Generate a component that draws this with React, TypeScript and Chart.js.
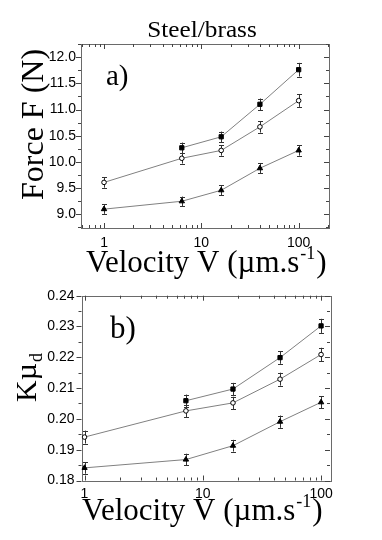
import React, { useEffect, useRef } from "react";
import { Chart, registerables } from "chart.js";

Chart.register(...registerables);

// ---------- data ----------
const velocityTicks = [1, 10, 100];

// panel a) Force F (N)
const velocitiesA = [1, 6.3, 16, 40, 100];
const forceSquares = [null, 10.27, 10.48, 11.1, 11.76];
const forceSquaresErr = [null, 0.1, 0.1, 0.11, 0.13];
const forceCircles = [9.61, 10.07, 10.22, 10.67, 11.17];
const forceCirclesErr = [0.1, 0.1, 0.1, 0.11, 0.12];
const forceTriangles = [9.1, 9.25, 9.46, 9.88, 10.22];
const forceTrianglesErr = [0.09, 0.09, 0.1, 0.1, 0.1];
const forceTicks = [9.0, 9.5, 10.0, 10.5, 11.0, 11.5, 12.0];

// panel b) K mu_d
const velocitiesB = [1, 7.2, 18, 45, 100];
const muSquares = [null, 0.2059, 0.2097, 0.2199, 0.2302];
const muSquaresErr = [null, 0.002, 0.002, 0.002, 0.0023];
const muCircles = [0.1941, 0.2026, 0.2052, 0.2129, 0.2209];
const muCirclesErr = [0.0021, 0.002, 0.002, 0.0021, 0.0022];
const muTriangles = [0.1841, 0.1868, 0.1913, 0.1991, 0.2054];
const muTrianglesErr = [0.0019, 0.0019, 0.0019, 0.002, 0.002];
const muTicks = [0.18, 0.19, 0.2, 0.21, 0.22, 0.23, 0.24];

// ---------- helpers ----------
type SeriesSpec = {
  values: (number | null)[];
  errors: (number | null)[];
  style: "rect" | "circle" | "triangle";
};

type PanelSpec = {
  width: number;
  height: number;
  xs: number[];
  series: SeriesSpec[];
  xMin: number;
  xMax: number;
  yMin: number;
  yMax: number;
  yTicks: number[];
  yDecimals: number;
  yMinorStep: number;
  yAxisWidth: number;
  xAxisHeight: number;
  padTop: number;
  padRight: number;
  yTickPad: number;
  xTickPad: number;
  drawText: (ctx: CanvasRenderingContext2D) => void;
};

const SERIF = '"Liberation Serif", "Times New Roman", serif';

function drawVelocityTitle(ctx: CanvasRenderingContext2D, x: number, baseline: number, size: number) {
  ctx.save();
  ctx.fillStyle = "#000";
  ctx.textAlign = "left";
  ctx.textBaseline = "alphabetic";
  const big = `${size}px ${SERIF}`;
  const small = `${Math.round(size * 0.58)}px ${SERIF}`;
  ctx.font = big;
  const main = "Velocity V (\u00b5m.s";
  ctx.fillText(main, x, baseline);
  let cx = x + ctx.measureText(main).width + 1;
  ctx.font = small;
  ctx.fillText("-1", cx, baseline - size * 0.42);
  cx += ctx.measureText("-1").width + 1;
  ctx.font = big;
  ctx.fillText(")", cx, baseline);
  ctx.restore();
}

function buildDatasets(spec: PanelSpec) {
  return spec.series.map((s) => {
    const pts: { x: number; y: number }[] = [];
    s.values.forEach((v, i) => {
      if (v !== null) pts.push({ x: spec.xs[i], y: v });
    });
    const isCircle = s.style === "circle";
    return {
      data: pts,
      borderColor: "#808080",
      borderWidth: 1,
      pointStyle: s.style,
      pointRadius: s.style === "rect" ? 3 : s.style === "circle" ? 2.3 : 3.1,
      pointBackgroundColor: isCircle ? "#fff" : "#000",
      pointBorderColor: "#000",
      pointBorderWidth: 1,
      fill: false,
      tension: 0,
    };
  });
}

function makePlugin(spec: PanelSpec) {
  return {
    id: "panelDecor",
    beforeDatasetsDraw(chart: any) {
      const { ctx, chartArea } = chart;
      const { left, right, top, bottom } = chartArea;
      const xs = chart.scales.x;
      const ys = chart.scales.y;
      ctx.save();
      ctx.strokeStyle = "#6a6a6a";
      ctx.lineWidth = 1;
      ctx.strokeRect(Math.round(left) + 0.5, Math.round(top) + 0.5, Math.round(right - left), Math.round(bottom - top));

      // x ticks (log decades), inward on bottom and top
      ctx.strokeStyle = "#444";
      ctx.beginPath();
      for (let d = -2; d <= 3; d++) {
        for (let m = 1; m <= 9; m++) {
          const v = m * Math.pow(10, d);
          if (v < spec.xMin || v > spec.xMax) continue;
          const px = Math.round(xs.getPixelForValue(v)) + 0.5;
          const len = m === 1 ? 5 : 3;
          ctx.moveTo(px, bottom);
          ctx.lineTo(px, bottom - len);
          ctx.moveTo(px, top);
          ctx.lineTo(px, top + len);
        }
      }
      // y ticks: outward on left, inward on right
      const nMinor = Math.round((spec.yMax - spec.yMin) / spec.yMinorStep) + 2;
      const start = Math.ceil(spec.yMin / spec.yMinorStep - 1e-6);
      for (let k = start; k < start + nMinor; k++) {
        const v = k * spec.yMinorStep;
        if (v < spec.yMin - 1e-9 || v > spec.yMax + 1e-9) continue;
        const isMajor = spec.yTicks.some((t) => Math.abs(t - v) < spec.yMinorStep / 10);
        const py = Math.round(ys.getPixelForValue(v)) + 0.5;
        const len = isMajor ? 5 : 3;
        ctx.moveTo(left, py);
        ctx.lineTo(left - len, py);
        ctx.moveTo(right, py);
        ctx.lineTo(right - len, py);
      }
      ctx.stroke();

      // error bars
      ctx.strokeStyle = "#333";
      ctx.beginPath();
      spec.series.forEach((s) => {
        s.values.forEach((v, i) => {
          const e = s.errors[i];
          if (v === null || e === null) return;
          const px = Math.round(xs.getPixelForValue(spec.xs[i])) + 0.5;
          const y1 = ys.getPixelForValue(v - e);
          const y2 = ys.getPixelForValue(v + e);
          ctx.moveTo(px, y1);
          ctx.lineTo(px, y2);
          ctx.moveTo(px - 2.5, Math.round(y1) + 0.5);
          ctx.lineTo(px + 2.5, Math.round(y1) + 0.5);
          ctx.moveTo(px - 2.5, Math.round(y2) + 0.5);
          ctx.lineTo(px + 2.5, Math.round(y2) + 0.5);
        });
      });
      ctx.stroke();
      ctx.restore();
    },
    afterDraw(chart: any) {
      spec.drawText(chart.ctx);
    },
  };
}

function makeChart(canvas: HTMLCanvasElement, spec: PanelSpec) {
  return new Chart(canvas, {
    type: "line",
    data: { datasets: buildDatasets(spec) as any },
    plugins: [makePlugin(spec)],
    options: {
      animation: false,
      responsive: false,
      maintainAspectRatio: false,
      events: [],
      layout: { padding: { top: spec.padTop, right: spec.padRight, left: 0, bottom: 0 } },
      plugins: { legend: { display: false }, tooltip: { enabled: false }, title: { display: false } },
      scales: {
        x: {
          type: "logarithmic",
          min: spec.xMin,
          max: spec.xMax,
          border: { display: false },
          grid: { display: false, drawTicks: false },
          afterBuildTicks: (scale: any) => {
            scale.ticks = velocityTicks.map((v) => ({ value: v, major: false }));
          },
          afterFit: (scale: any) => {
            scale.height = spec.xAxisHeight;
          },
          ticks: {
            autoSkip: false,
            maxRotation: 0,
            padding: spec.xTickPad,
            color: "#000",
            font: { family: '"Liberation Sans", Arial, sans-serif', size: 14 },
            callback: (v: any) => String(v),
          },
        },
        y: {
          type: "linear",
          min: spec.yMin,
          max: spec.yMax,
          border: { display: false },
          grid: { display: false, drawTicks: false },
          afterBuildTicks: (scale: any) => {
            scale.ticks = spec.yTicks.map((v) => ({ value: v }));
          },
          afterFit: (scale: any) => {
            scale.width = spec.yAxisWidth;
          },
          ticks: {
            autoSkip: false,
            padding: spec.yTickPad,
            color: "#000",
            font: { family: '"Liberation Sans", Arial, sans-serif', size: 14 },
            callback: (v: any) => Number(v).toFixed(spec.yDecimals),
          },
        },
      },
    } as any,
  });
}

const specA: PanelSpec = {
  width: 382,
  height: 280,
  xs: velocitiesA,
  series: [
    { values: forceSquares, errors: forceSquaresErr, style: "rect" },
    { values: forceCircles, errors: forceCirclesErr, style: "circle" },
    { values: forceTriangles, errors: forceTrianglesErr, style: "triangle" },
  ],
  xMin: 0.58,
  xMax: 205,
  yMin: 8.74,
  yMax: 12.25,
  yTicks: forceTicks,
  yDecimals: 1,
  yMinorStep: 0.25,
  yAxisWidth: 81,
  xAxisHeight: 52,
  padTop: 44,
  padRight: 53,
  yTickPad: 5,
  xTickPad: 7,
  drawText: (ctx) => {
    ctx.save();
    ctx.fillStyle = "#000";
    // title
    ctx.save();
    ctx.translate(202, 37);
    ctx.scale(1.1, 1);
    ctx.font = `23px ${SERIF}`;
    ctx.textAlign = "center";
    ctx.textBaseline = "alphabetic";
    ctx.fillText("Steel/brass", 0, 0);
    ctx.restore();
    // panel label
    ctx.font = `29px ${SERIF}`;
    ctx.textAlign = "left";
    ctx.textBaseline = "alphabetic";
    ctx.fillText("a)", 106, 85);
    // y title
    ctx.save();
    ctx.translate(43, 200);
    ctx.rotate(-Math.PI / 2);
    ctx.font = `32px ${SERIF}`;
    ctx.fillText("Force F (N)", 0, 0);
    ctx.restore();
    ctx.restore();
    drawVelocityTitle(ctx, 86, 272, 31);
  },
};

const specB: PanelSpec = {
  width: 382,
  height: 260,
  xs: velocitiesB,
  series: [
    { values: muSquares, errors: muSquaresErr, style: "rect" },
    { values: muCircles, errors: muCirclesErr, style: "circle" },
    { values: muTriangles, errors: muTrianglesErr, style: "triangle" },
  ],
  xMin: 0.943,
  xMax: 119,
  yMin: 0.18,
  yMax: 0.24,
  yTicks: muTicks,
  yDecimals: 2,
  yMinorStep: 0.005,
  yAxisWidth: 81.5,
  xAxisHeight: 59.5,
  padTop: 15.7,
  padRight: 52,
  yTickPad: 7,
  xTickPad: 5,
  drawText: (ctx) => {
    ctx.save();
    ctx.fillStyle = "#000";
    ctx.font = `31px ${SERIF}`;
    ctx.textAlign = "left";
    ctx.textBaseline = "alphabetic";
    ctx.fillText("b)", 110, 57.5);
    // y title K mu_d
    ctx.save();
    ctx.translate(36, 122);
    ctx.rotate(-Math.PI / 2);
    ctx.font = `30px ${SERIF}`;
    const km = "K\u00b5";
    ctx.fillText(km, 0, 0);
    const w = ctx.measureText(km).width;
    ctx.font = `18px ${SERIF}`;
    ctx.fillText("d", w + 1, 6);
    ctx.restore();
    ctx.restore();
    drawVelocityTitle(ctx, 82, 240, 31);
  },
};

function Panel({ spec, top }: { spec: PanelSpec; top: number }) {
  const ref = useRef<HTMLCanvasElement | null>(null);
  useEffect(() => {
    if (!ref.current) return;
    const chart = makeChart(ref.current, spec);
    return () => chart.destroy();
  }, [spec]);
  return (
    <div style={{ position: "absolute", left: 0, top, width: spec.width, height: spec.height }}>
      <canvas ref={ref} width={spec.width} height={spec.height} style={{ display: "block", width: spec.width, height: spec.height }} />
    </div>
  );
}

export default function App() {
  return (
    <div style={{ position: "absolute", left: 0, top: 0, width: 382, height: 540, background: "#fff", overflow: "hidden" }}>
      <Panel spec={specA} top={0} />
      <Panel spec={specB} top={280} />
    </div>
  );
}
